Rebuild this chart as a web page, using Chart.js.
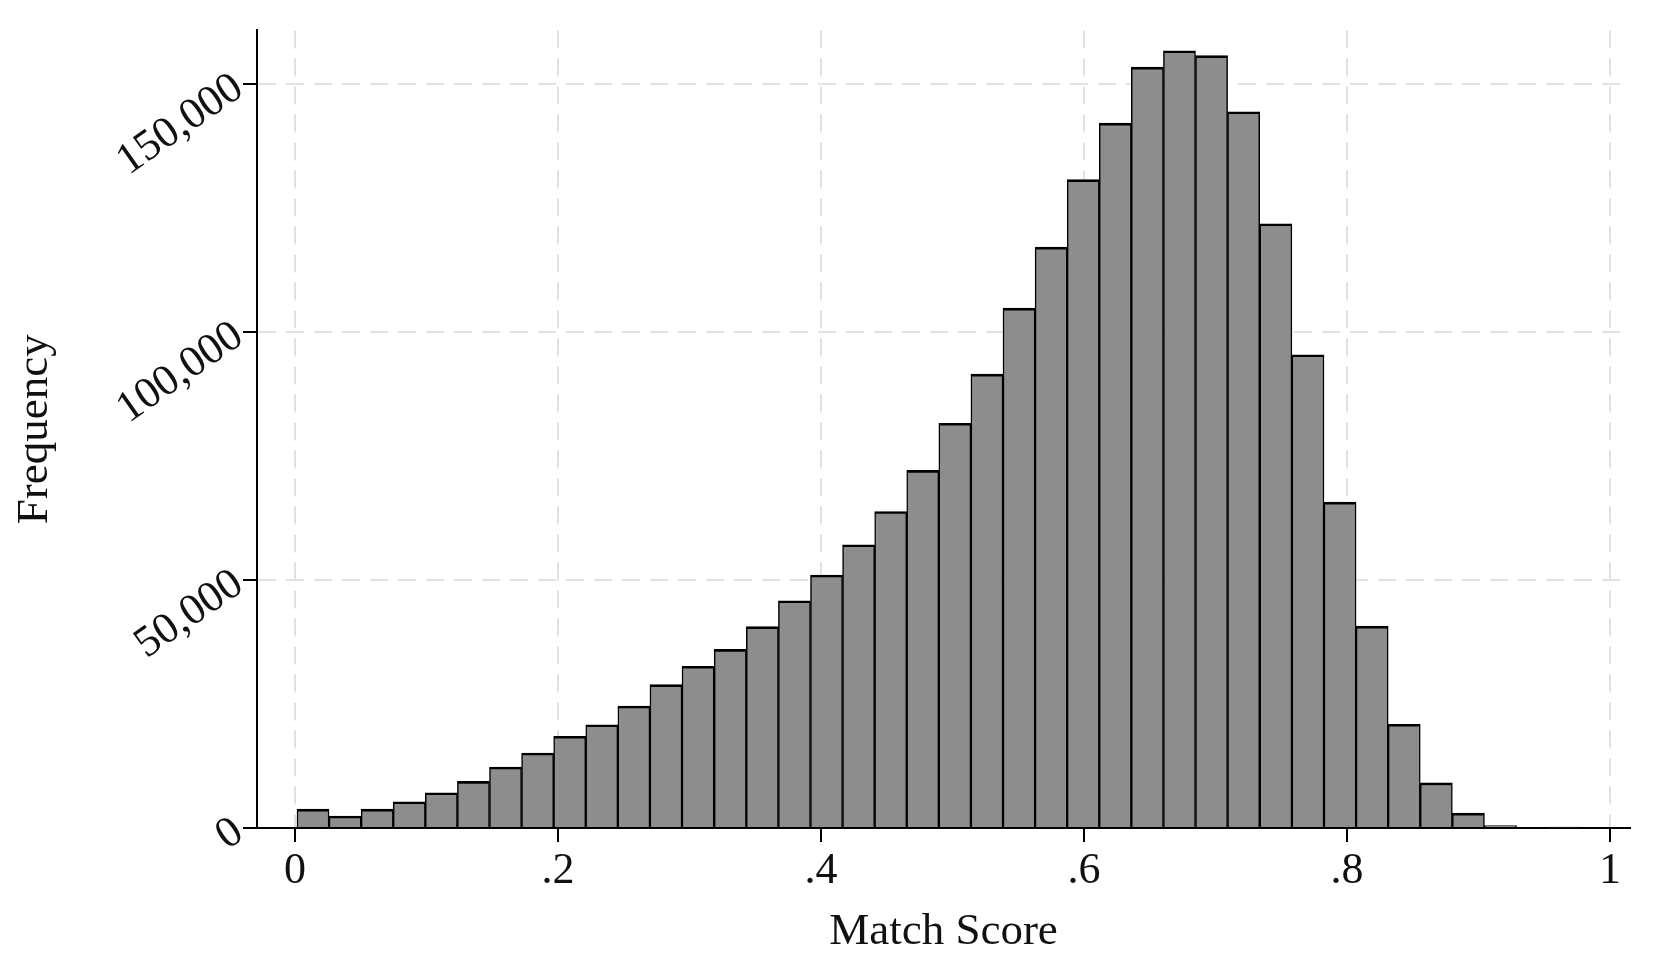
<!DOCTYPE html>
<html>
<head>
<meta charset="utf-8">
<script src="https://cdn.jsdelivr.net/npm/chart.js@4.4.1/dist/chart.umd.min.js"></script>
<style>
  html, body { margin: 0; padding: 0; background: #fff; }
  #wrap { width: 1653px; height: 955px; position: relative; }
</style>
</head>
<body>
<div id="wrap"><canvas id="histChart"></canvas></div>
<script>
// bin centres (match score) and counts
const binCentres = [
  0.0137, 0.0381, 0.0625, 0.0869, 0.1113, 0.1357, 0.1601, 0.1845, 0.2089, 0.2333,
  0.2577, 0.2821, 0.3065, 0.3310, 0.3554, 0.3798, 0.4042, 0.4286, 0.4530, 0.4774,
  0.5018, 0.5262, 0.5506, 0.5750, 0.5994, 0.6238, 0.6482, 0.6726, 0.6970, 0.7214,
  0.7459, 0.7703, 0.7947, 0.8191, 0.8435, 0.8679, 0.8923, 0.9167, 0.9411, 0.9655
];
const frequency = [
  3800, 2400, 3800, 5300, 7100, 9400, 12300, 15100, 18500, 20800,
  24600, 28900, 32600, 36000, 40600, 45800, 51000, 57100, 63800, 72100,
  81600, 91500, 104800, 117100, 130700, 142100, 153400, 156700, 155700, 144400,
  121800, 95400, 65700, 40700, 20900, 9100, 3000, 500, 0, 150
];
const xTickValues = [0, 0.2, 0.4, 0.6, 0.8, 1];
const xTickLabels = ['0', '.2', '.4', '.6', '.8', '1'];
const yTickValues = [0, 50000, 100000, 150000];
const yTickLabels = ['0', '50,000', '100,000', '150,000'];

const serif = 'Liberation Serif';
const gridColor = '#e2e2e2';

const ctx = document.getElementById('histChart').getContext('2d');
const histChart = new Chart(ctx, {
    type: 'bar',
    data: {
        datasets: [{
            label: 'Frequency',
            data: binCentres.map((c, i) => ({x: c, y: frequency[i]})),
            backgroundColor: '#8d8d8d',
            borderColor: '#000',
            borderWidth: {top: 2.6, left: 1.5, right: 1.5, bottom: 0},
            borderSkipped: false,
            barPercentage: 1,
            categoryPercentage: 1,
        }]
    },
    options: {
        responsive: true,
        maintainAspectRatio: false,
        animation: false,
        layout: {padding: {top: 24, right: 23, left: 0, bottom: 0}},
        plugins: {
            legend: {display: false},
            tooltip: {enabled: false}
        },
        scales: {
            x: {
                type: 'linear',
                offset: false,
                min: -0.0289,
                max: 1.0152,
                afterBuildTicks: (scale) => { scale.ticks = xTickValues.map(v => ({value: v})); },
                afterFit: (scale) => { scale.height = 127; },
                grid: {
                    offset: false,
                    color: gridColor,
                    lineWidth: 2,
                    tickLength: 14,
                    tickColor: '#000',
                    tickWidth: 2,
                    tickBorderDash: []
                },
                border: {display: true, color: '#000', width: 2, dash: [18, 10]},
                ticks: {
                    autoSkip: false,
                    maxRotation: 0,
                    padding: 3,
                    color: '#111',
                    font: {family: serif, size: 44, lineHeight: 1.2},
                    callback: (v) => xTickLabels[xTickValues.indexOf(v)]
                },
                title: {
                    display: true,
                    text: 'Match Score',
                    color: '#111',
                    padding: 0,
                    font: {family: serif, size: 45, lineHeight: 1}
                }
            },
            y: {
                type: 'linear',
                min: 0,
                max: 160800,
                afterBuildTicks: (scale) => { scale.ticks = yTickValues.map(v => ({value: v})); },
                afterFit: (scale) => { scale.width = 257; },
                grid: {
                    color: gridColor,
                    lineWidth: 2,
                    tickLength: 14,
                    tickColor: '#000',
                    tickWidth: 2,
                    tickBorderDash: []
                },
                border: {display: true, color: '#000', width: 2, dash: [18, 10]},
                ticks: {
                    minRotation: 35,
                    maxRotation: 35,
                    padding: 4,
                    color: '#111',
                    font: {family: serif, size: 44, lineHeight: 1.2},
                    callback: (v) => yTickLabels[yTickValues.indexOf(v)]
                },
                title: {
                    display: true,
                    text: 'Frequency',
                    color: '#111',
                    padding: {top: 8, bottom: 0},
                    font: {family: serif, size: 45, lineHeight: 1.2}
                }
            }
        }
    }
});
</script>
</body>
</html>
